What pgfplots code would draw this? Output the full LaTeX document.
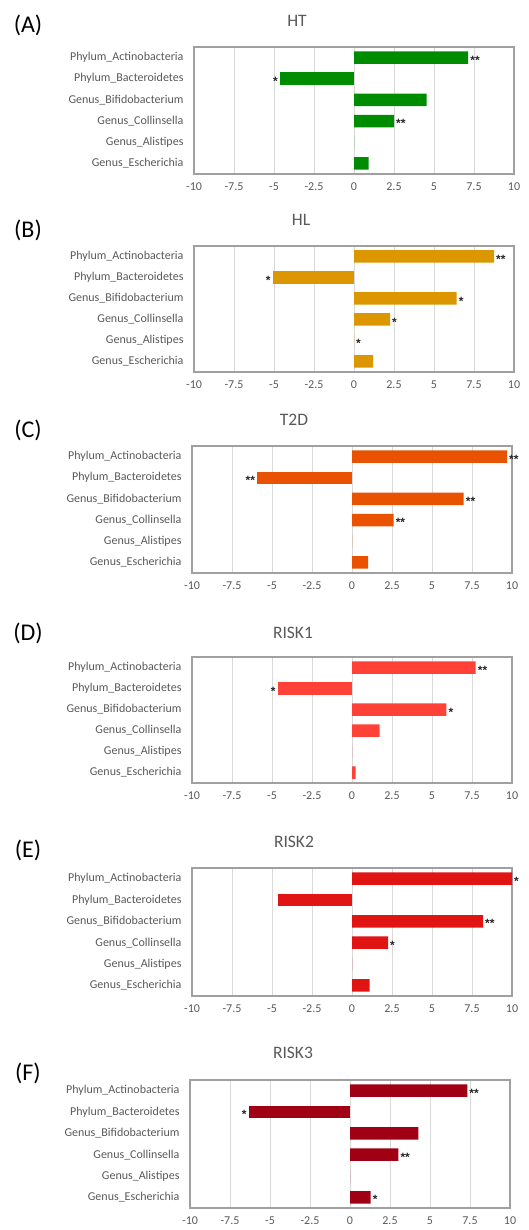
\documentclass[border=0pt]{standalone}
\usepackage{pgfplots}
\pgfplotsset{compat=1.18}
\usepackage{fontspec}
\setmainfont{Carlito}
\newfontfamily\starfont{Liberation Sans}
\definecolor{txtgray}{HTML}{595959}
\definecolor{gridgray}{HTML}{D9D9D9}
\definecolor{boxgray}{HTML}{A0A0A0}
\definecolor{cA}{RGB}{0,140,0}
\definecolor{cB}{RGB}{220,150,0}
\definecolor{cC}{RGB}{232,82,0}
\definecolor{cD}{RGB}{255,65,55}
\definecolor{cE}{RGB}{225,20,20}
\definecolor{cF}{RGB}{160,0,20}
\tikzset{starlbl/.style={font=\starfont\bfseries\fontsize{12}{12}\selectfont, text=black!85, inner sep=2pt, yshift=-2.5pt}}
\pgfplotsset{
  panel/.style={
    anchor=north west, scale only axis, width=320pt,
    xbar, bar width=12.5pt,
    xmin=-10, xmax=10, ymin=-0.5, ymax=5.5,
    xtick={-10,-7.5,-5,-2.5,0,2.5,5,7.5,10},
    xticklabels={-10,-7.5,-5,-2.5,0,2.5,5,7.5,10},
    ytick={0,1,2,3,4,5},
    yticklabels={Genus\_Escherichia,Genus\_Alistipes,Genus\_Collinsella,Genus\_Bifidobacterium,Phylum\_Bacteroidetes,Phylum\_Actinobacteria},
    major tick length=0pt,
    xmajorgrids, grid style={gridgray, line width=1pt},
    axis line style={boxgray, line width=1.3pt},
    tick label style={font=\fontsize{12}{12}\selectfont, text=txtgray},
    xticklabel style={yshift=-5pt},
    yticklabel style={xshift=-7pt},
    point meta=explicit symbolic,
    clip=false,
  },
  pos/.style={draw=none, fill=#1, bar shift=0pt, nodes near coords,
    nodes near coords style={starlbl, anchor=west}},
  neg/.style={draw=none, fill=#1, bar shift=0pt, nodes near coords,
    nodes near coords style={starlbl, anchor=east}},
}
\newcommand{\ttl}[3]{\node[font=\fontsize{17.5}{17.5}\selectfont, text=txtgray] at (#1pt,-#2pt) {#3};}
\newcommand{\lbl}[3]{\node[font=\fontsize{24}{24}\selectfont, text=black] at (#1pt,-#2pt) {#3};}
\begin{document}
\begin{tikzpicture}
\path (0,0) rectangle (528pt,-1230pt);
% (A) HT
\lbl{28}{25}{(A)}
\ttl{297}{21}{HT}
\begin{axis}[panel, at={(194pt,-47pt)}, height=127pt]
\addplot[pos=cA] coordinates {(7.14,5) [**] (4.54,3) [{}] (2.50,2) [**] (0,1) [{}] (0.92,0) [{}]};
\addplot[neg=cA] coordinates {(-4.62,4) [*]};
\end{axis}
% (B) HL
\lbl{28}{230}{(B)}
\ttl{301}{220}{HL}
\begin{axis}[panel, at={(194pt,-246pt)}, height=126pt]
\addplot[pos=cB] coordinates {(8.75,5) [**] (6.42,3) [*] (2.25,2) [*] (0,1) [*] (1.20,0) [{}]};
\addplot[neg=cB] coordinates {(-5.08,4) [*]};
\end{axis}
% (C) T2D
\lbl{28}{430}{(C)}
\ttl{294}{420}{T2D}
\begin{axis}[panel, at={(192pt,-446pt)}, height=127pt]
\addplot[pos=cC] coordinates {(9.69,5) [**] (6.98,3) [**] (2.60,2) [**] (0,1) [{}] (1.00,0) [{}]};
\addplot[neg=cC] coordinates {(-5.92,4) [**]};
\end{axis}
% (D) RISK1
\lbl{28}{633}{(D)}
\ttl{293}{633}{RISK1}
\begin{axis}[panel, at={(192pt,-657pt)}, height=126pt]
\addplot[pos=cD] coordinates {(7.73,5) [**] (5.90,3) [*] (1.73,2) [{}] (0,1) [{}] (0.23,0) [{}]};
\addplot[neg=cD] coordinates {(-4.64,4) [*]};
\end{axis}
% (E) RISK2
\lbl{28}{850}{(E)}
\ttl{294}{842}{RISK2}
\begin{axis}[panel, at={(192pt,-868pt)}, height=128pt]
\addplot[pos=cE] coordinates {(10,5) [*] (8.19,3) [**] (2.25,2) [*] (0,1) [{}] (1.10,0) [{}]};
\addplot[neg=cE] coordinates {(-4.64,4) [{}]};
\end{axis}
% (F) RISK3
\lbl{28}{1073}{(F)}
\ttl{293}{1053}{RISK3}
\begin{axis}[panel, at={(190pt,-1080pt)}, height=128pt]
\addplot[pos=cF] coordinates {(7.33,5) [**] (4.27,3) [{}] (3.02,2) [**] (0,1) [{}] (1.29,0) [*]};
\addplot[neg=cF] coordinates {(-6.33,4) [*]};
\end{axis}
\end{tikzpicture}
\end{document}
